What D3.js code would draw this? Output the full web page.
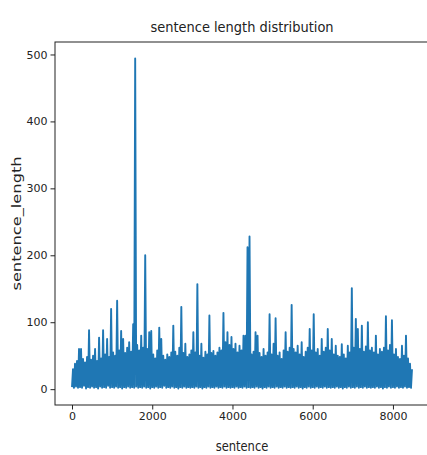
<!DOCTYPE html>
<html>
<head>
<meta charset="utf-8">
<script src="https://cdn.jsdelivr.net/npm/d3@7/dist/d3.min.js"></script>
<style>
  html, body { margin: 0; background: #fff; overflow: hidden; }
  svg { display: block; }
  text { font-family: "DejaVu Sans", sans-serif; fill: #222; }
</style>
</head>
<body>
<svg id="chart" width="427" height="455"></svg>
<script>
// one reading every 25 sentences (lows and highs alternate)
const sentenceStep = 25;
const sentenceLength = [
  3, 30, 2, 38, 4, 42, 2, 60, 3, 60, 2, 45, 5, 40, 1, 48, 3, 88, 2, 44,
  4, 50, 2, 60, 3, 42, 1, 77, 4, 46, 2, 88, 3, 52, 2, 75, 5, 48, 2, 120,
  3, 55, 2, 50, 4, 132, 2, 58, 3, 87, 1, 75, 3, 54, 2, 62, 4, 70, 2, 56,
  3, 97, 2, 494, 4, 66, 2, 58, 3, 80, 2, 62, 4, 200, 2, 60, 3, 85, 1, 87,
  3, 52, 2, 46, 4, 58, 2, 92, 3, 75, 2, 50, 5, 44, 2, 52, 3, 48, 2, 55,
  4, 95, 2, 56, 3, 50, 1, 62, 3, 123, 2, 54, 4, 68, 2, 48, 3, 52, 2, 58,
  3, 85, 2, 55, 4, 157, 2, 50, 3, 68, 1, 47, 3, 56, 2, 52, 4, 110, 2, 54,
  3, 57, 2, 50, 4, 55, 2, 62, 3, 58, 2, 114, 4, 70, 2, 85, 3, 66, 2, 78,
  3, 60, 2, 68, 4, 55, 2, 65, 3, 58, 2, 80, 4, 80, 2, 212, 3, 228, 2, 52,
  3, 56, 2, 85, 4, 80, 2, 54, 3, 48, 1, 60, 3, 50, 2, 55, 4, 112, 2, 52,
  3, 68, 2, 106, 4, 50, 2, 55, 3, 45, 2, 58, 4, 85, 2, 56, 3, 62, 2, 126,
  3, 60, 2, 55, 4, 65, 2, 52, 3, 70, 1, 48, 3, 56, 2, 62, 4, 90, 2, 58,
  3, 112, 2, 55, 4, 60, 2, 50, 3, 75, 2, 56, 4, 62, 2, 90, 3, 58, 2, 75,
  3, 52, 2, 65, 4, 50, 2, 48, 3, 67, 1, 52, 3, 46, 2, 65, 4, 55, 2, 151,
  3, 62, 2, 105, 4, 90, 2, 60, 3, 95, 2, 56, 4, 64, 2, 100, 3, 58, 2, 62,
  3, 55, 2, 80, 4, 52, 2, 60, 3, 56, 1, 62, 3, 109, 2, 58, 4, 66, 2, 103,
  3, 52, 2, 60, 4, 48, 2, 45, 3, 65, 2, 50, 4, 80, 2, 46, 3, 38, 2, 30
];
const xTickValues = [0, 2000, 4000, 6000, 8000];
const yTickValues = [0, 100, 200, 300, 400, 500];

const width = 427, height = 455;
const margins = { top: 42, right: -2, bottom: 50, left: 55 };

const data = sentenceLength.map((v, i) => ({ sentence: i * sentenceStep, value: v }));

// matplotlib style 5% padding on both axes
const xExt = d3.extent(data, d => d.sentence),
  yExt = d3.extent(data, d => d.value);
const xPad = (xExt[1] - xExt[0]) * 0.05,
  yPad = (yExt[1] - yExt[0]) * 0.05;

const vis = d3.select('#chart'),
  xScale = d3
    .scaleLinear()
    .range([margins.left, width - margins.right])
    .domain([xExt[0] - xPad, xExt[1] + xPad]),
  yScale = d3
    .scaleLinear()
    .range([height - margins.bottom, margins.top])
    .domain([yExt[0] - yPad, yExt[1] + yPad]);

vis.append('clipPath')
  .attr('id', 'plot-clip')
  .append('rect')
  .attr('x', margins.left)
  .attr('y', margins.top)
  .attr('width', width - margins.right - margins.left)
  .attr('height', height - margins.bottom - margins.top);

//Make line
const lineGen = d3
  .line()
  .x(d => xScale(d.sentence))
  .y(d => yScale(d.value));

vis
  .append('path')
  .attr('clip-path', 'url(#plot-clip)')
  .attr('d', lineGen(data))
  .attr('stroke', '#1f77b4')
  .attr('stroke-width', 1.9)
  .attr('stroke-linejoin', 'round')
  .attr('fill', 'none');

//Frame (right spine falls just outside the picture)
vis
  .append('rect')
  .attr('x', margins.left)
  .attr('y', margins.top)
  .attr('width', width - margins.right - margins.left)
  .attr('height', height - margins.bottom - margins.top)
  .attr('fill', 'none')
  .attr('stroke', '#222')
  .attr('stroke-width', 1);

const xAxis = d3.axisBottom(xScale).tickValues(xTickValues).tickFormat(d3.format('d'))
    .tickSize(4.5).tickPadding(3).tickSizeOuter(0),
  yAxis = d3.axisLeft(yScale).tickValues(yTickValues).tickFormat(d3.format('d'))
    .tickSize(4.5).tickPadding(3).tickSizeOuter(0);

vis
  .append('g')
  .attr('transform', 'translate(0,' + (height - margins.bottom) + ')')
  .call(xAxis);

vis
  .append('g')
  .attr('transform', 'translate(' + margins.left + ',0)')
  .call(yAxis);

vis.selectAll('.domain').remove();
vis.selectAll('.tick line').attr('stroke', '#222');
vis.selectAll('.tick text')
  .style('font-family', '"DejaVu Sans", sans-serif')
  .style('font-size', '11px')
  .attr('fill', '#222');

//Title (the picture is a little stretched vertically)
vis
  .append('text')
  .attr('transform', 'translate(' + (margins.left + width - margins.right) / 2 + ',32) scale(1,1.15)')
  .style('text-anchor', 'middle')
  .style('font-size', '13px')
  .text('sentence length distribution');

//X axis label
vis
  .append('text')
  .attr('transform', 'translate(' + (margins.left + width - margins.right) / 2 + ',451) scale(1,1.2)')
  .style('text-anchor', 'middle')
  .style('font-size', '11.5px')
  .text('sentence');

//Y-axis label
vis
  .append('text')
  .attr('transform', 'translate(21,' + (margins.top + height - margins.bottom) / 2 + ') rotate(-90) scale(1.3,1)')
  .style('text-anchor', 'middle')
  .style('font-size', '12.5px')
  .text('sentence_length');
</script>
</body>
</html>
